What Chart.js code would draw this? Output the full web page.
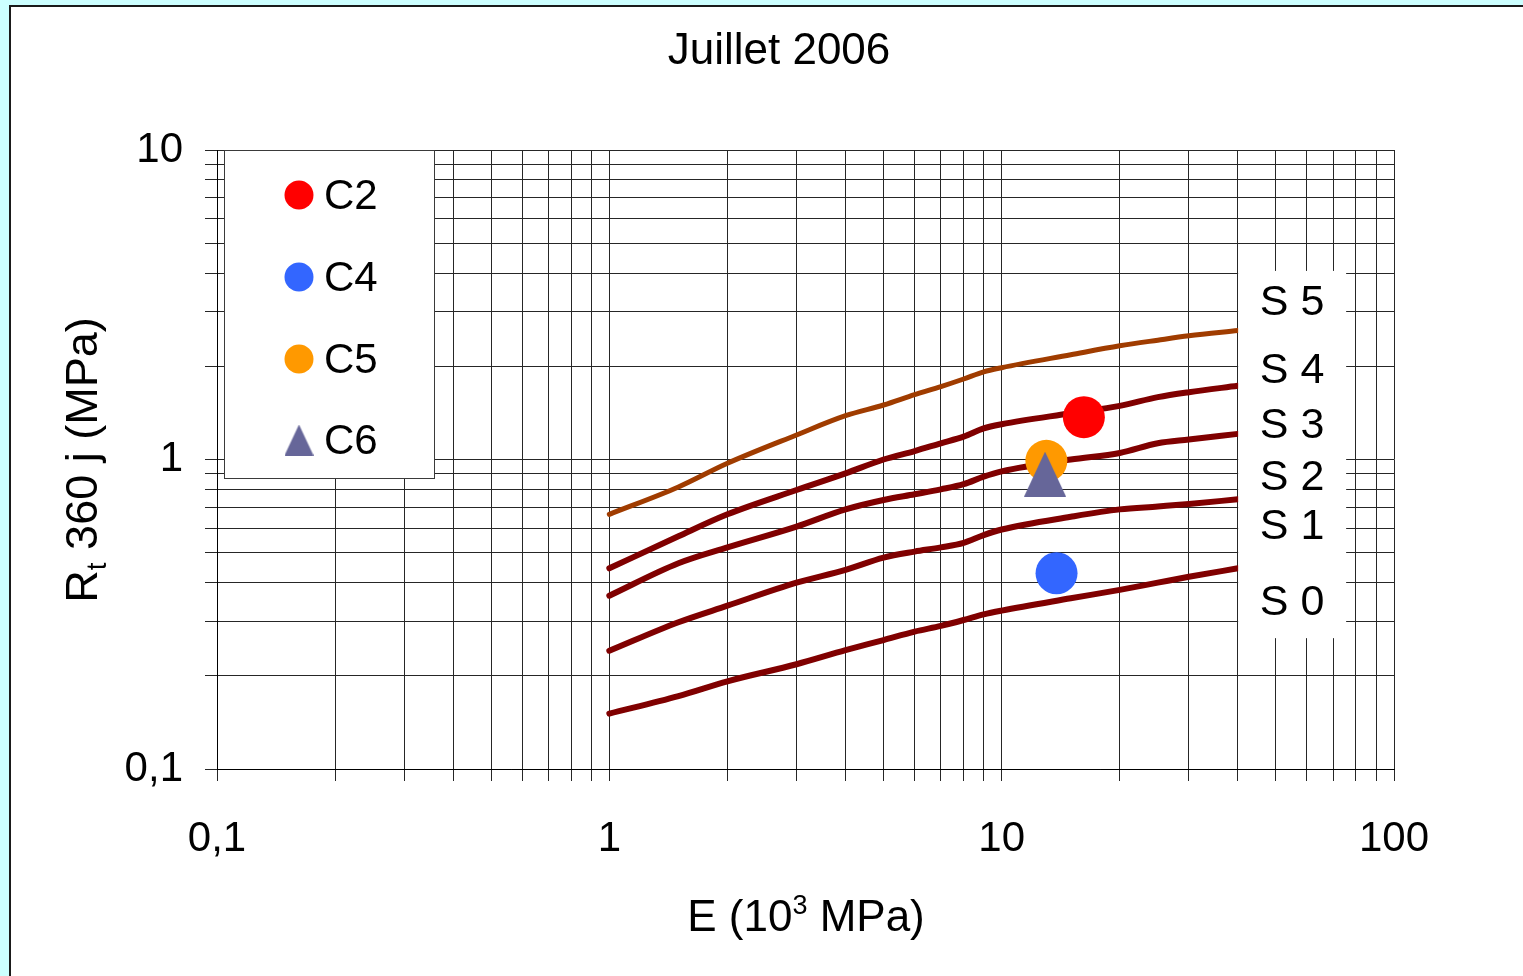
<!DOCTYPE html>
<html>
<head>
<meta charset="utf-8">
<style>
  html, body { margin: 0; padding: 0; background: #ccffff; }
  canvas { display: block; }
</style>
<script src="https://cdn.jsdelivr.net/npm/chart.js@4.4.1/dist/chart.umd.min.js"></script>
</head>
<body>
<canvas id="chart" width="1523" height="976"></canvas>
<script>
// Modulus E (10^3 MPa) at which the class boundary curves are tabulated
const boundaryE = [1, 1.5, 2, 3, 4, 5, 6, 7, 8, 9, 10, 15, 20, 25, 30, 40];

// Rt 360 j (MPa) along each boundary between classes S0 .. S5
const limitS0S1 = [0.151, 0.172, 0.192, 0.218, 0.242, 0.261, 0.278, 0.290, 0.303, 0.316, 0.325, 0.356, 0.379, 0.400, 0.418, 0.445];
const limitS1S2 = [0.241, 0.298, 0.337, 0.400, 0.440, 0.482, 0.504, 0.520, 0.538, 0.570, 0.594, 0.653, 0.690, 0.705, 0.718, 0.744];
const limitS2S3 = [0.363, 0.462, 0.520, 0.607, 0.690, 0.740, 0.772, 0.801, 0.832, 0.880, 0.915, 1.000, 1.050, 1.128, 1.160, 1.210];
const limitS3S4 = [0.445, 0.565, 0.665, 0.797, 0.902, 1.000, 1.065, 1.128, 1.185, 1.260, 1.300, 1.410, 1.490, 1.590, 1.650, 1.730];
const limitS4S5 = [0.665, 0.815, 0.972, 1.200, 1.385, 1.500, 1.620, 1.720, 1.820, 1.920, 1.980, 2.180, 2.330, 2.430, 2.510, 2.610];

// Class names and the Rt value at which each name sits, at the right of the curves
const classNames = ['S 0', 'S 1', 'S 2', 'S 3', 'S 4', 'S 5'];
const classRt = [0.346, 0.607, 0.880, 1.288, 1.946, 3.23];
const classE = 55;

// Measured samples
const sampleNames = ['C2', 'C4', 'C5', 'C6'];
const sampleE = [16.2, 13.8, 13.0, 12.9];
const sampleRt = [1.37, 0.429, 0.99, 0.897];

// Axis ticks (log scales) and their labels
const xTickValues = [0.1, 0.2, 0.3, 0.4, 0.5, 0.6, 0.7, 0.8, 0.9, 1, 2, 3, 4, 5, 6, 7, 8, 9, 10, 20, 30, 40, 50, 60, 70, 80, 90, 100];
const xTickLabels = {0.1: '0,1', 1: '1', 10: '10', 100: '100'};
const yTickValues = [0.1, 0.2, 0.3, 0.4, 0.5, 0.6, 0.7, 0.8, 0.9, 1, 2, 3, 4, 5, 6, 7, 8, 9, 10];
const yTickLabels = {0.1: '0,1', 1: '1', 10: '10'};

const FONT = '"Liberation Sans", Arial, Helvetica, sans-serif';
const GRID = '#262626';

function triangleSprite(w, h, color) {
  const c = document.createElement('canvas');
  c.width = w; c.height = h;
  const g = c.getContext('2d');
  g.fillStyle = color;
  g.beginPath();
  g.moveTo(w / 2, 0);
  g.lineTo(w, h);
  g.lineTo(0, h);
  g.closePath();
  g.fill();
  return c;
}

const sampleStyle = {
  C2: { color: '#ff0000', style: 'circle', order: 2 },
  C4: { color: '#3366ff', style: 'circle', order: 3 },
  C5: { color: '#ff9900', style: 'circle', order: 1 },
  C6: { color: '#666699', style: 'triangle', order: 0 }
};

const boundaries = [limitS0S1, limitS1S2, limitS2S3, limitS3S4, limitS4S5];
const boundaryColors = ['#800000', '#800000', '#800000', '#800000', '#a03c00'];
const boundaryWidths = [6, 6, 6, 6, 5];

const datasets = [];
sampleNames.forEach((name, i) => {
  const st = sampleStyle[name];
  datasets.push({
    type: 'scatter',
    label: name,
    isSample: true,
    data: [{ x: sampleE[i], y: sampleRt[i] }],
    pointStyle: st.style === 'triangle' ? triangleSprite(42, 45, st.color) : 'circle',
    pointRadius: 21,
    pointHoverRadius: 21,
    pointBackgroundColor: st.color,
    pointBorderWidth: 0,
    borderColor: st.color,
    order: st.order
  });
});
boundaries.forEach((vals, k) => {
  datasets.push({
    type: 'line',
    label: 'limit ' + k,
    data: boundaryE.map((e, i) => ({ x: e, y: vals[i] })),
    borderColor: boundaryColors[k],
    borderWidth: boundaryWidths[k],
    pointRadius: 0,
    cubicInterpolationMode: 'monotone',
    fill: false,
    borderCapStyle: 'round',
    borderJoinStyle: 'round',
    order: 10
  });
});

// Frame, white sheet and free text (title, axis titles, legend, class names)
const decorations = {
  id: 'decorations',
  beforeDraw(chart) {
    const ctx = chart.ctx;
    ctx.save();
    ctx.fillStyle = '#ccffff';
    ctx.fillRect(0, 0, chart.width, chart.height);
    ctx.fillStyle = '#ffffff';
    ctx.fillRect(9, 5, chart.width - 9, chart.height - 5);
    ctx.fillStyle = '#1a1a1a';
    ctx.fillRect(9, 5, chart.width - 9, 2);
    ctx.fillRect(9, 5, 2, chart.height - 5);
    ctx.restore();
  },
  afterDraw(chart) {
    const ctx = chart.ctx;
    const xs = chart.scales.x, ys = chart.scales.y;
    const area = chart.chartArea;
    ctx.save();
    ctx.fillStyle = '#000';

    // Title
    ctx.font = '44px ' + FONT;
    ctx.textAlign = 'center';
    ctx.textBaseline = 'middle';
    ctx.fillText('Juillet 2006', 779, 52);

    // Rich text helper (sub/superscripts)
    function rich(parts, x, y) {
      let total = 0;
      parts.forEach(p => { ctx.font = p.size + 'px ' + FONT; p.w = ctx.measureText(p.t).width; total += p.w; });
      let cx = x - total / 2;
      ctx.textAlign = 'left';
      ctx.textBaseline = 'alphabetic';
      parts.forEach(p => { ctx.font = p.size + 'px ' + FONT; ctx.fillText(p.t, cx, y + p.dy); cx += p.w; });
    }

    // X axis title
    rich([
      { t: 'E (10', size: 44, dy: 0 },
      { t: '3', size: 27, dy: -17 },
      { t: ' MPa)', size: 44, dy: 0 }
    ], 806, 931);

    // Y axis title
    ctx.save();
    ctx.translate(97, 460);
    ctx.rotate(-Math.PI / 2);
    rich([
      { t: 'R', size: 45, dy: 0 },
      { t: 't', size: 28, dy: 9 },
      { t: ' 360 j (MPa)', size: 45, dy: 0 }
    ], 0, 0);
    ctx.restore();

    // Legend box
    const lx = area.left + 7.5, ly = area.top + 0.5, lw = 210, lh = 328;
    ctx.fillStyle = '#ffffff';
    ctx.fillRect(lx, ly, lw, lh);
    ctx.strokeStyle = '#3a3a3a';
    ctx.lineWidth = 1;
    ctx.strokeRect(lx, ly, lw, lh);
    const rowY = [195, 277, 359, 440];
    chart.data.datasets.filter(d => d.isSample).forEach((d, i) => {
      const st = sampleStyle[d.label];
      const my = rowY[i];
      if (st.style === 'triangle') {
        ctx.drawImage(triangleSprite(29, 31, st.color), 299 - 14.5, my - 15.5);
      } else {
        ctx.fillStyle = st.color;
        ctx.beginPath();
        ctx.arc(299, my, 14.5, 0, Math.PI * 2);
        ctx.fill();
      }
      ctx.fillStyle = '#000';
      ctx.font = '42px ' + FONT;
      ctx.textAlign = 'left';
      ctx.textBaseline = 'middle';
      ctx.fillText(d.label, 324, my + 2);
    });

    // Class names on a white strip at the right of the curves
    const cx = xs.getPixelForValue(classE);
    const yTop = ys.getPixelForValue(classRt[classRt.length - 1]);
    const yBot = ys.getPixelForValue(classRt[0]);
    ctx.fillStyle = '#ffffff';
    ctx.fillRect(cx - 54, yTop - 31, 108, yBot - yTop + 67);
    ctx.fillStyle = '#000';
    ctx.font = '43px ' + FONT;
    ctx.textAlign = 'center';
    ctx.textBaseline = 'middle';
    classNames.forEach((n, i) => {
      ctx.fillText(n, cx, ys.getPixelForValue(classRt[i]) + 1);
    });
    ctx.restore();
  }
};

new Chart(document.getElementById('chart'), {
  data: { datasets },
  options: {
    responsive: false,
    animation: false,
    devicePixelRatio: 1,
    layout: { padding: { top: 150, right: 129, left: 0, bottom: 0 } },
    plugins: {
      legend: { display: false },
      title: { display: false },
      tooltip: { enabled: false }
    },
    scales: {
      x: {
        type: 'logarithmic',
        min: 0.1,
        max: 100,
        afterFit(scale) { scale.height = 207; },
        afterBuildTicks(scale) { scale.ticks = xTickValues.map(v => ({ value: v })); },
        grid: { color: GRID, lineWidth: 1, tickLength: 12, drawTicks: true, tickColor: GRID },
        border: { color: '#000', width: 1 },
        ticks: {
          autoSkip: false,
          maxRotation: 0,
          padding: 33,
          color: '#000',
          font: { family: FONT, size: 42 },
          callback: v => (xTickLabels[v] !== undefined ? xTickLabels[v] : '')
        }
      },
      y: {
        type: 'logarithmic',
        min: 0.1,
        max: 10,
        afterFit(scale) { scale.width = 217; },
        afterBuildTicks(scale) { scale.ticks = yTickValues.map(v => ({ value: v })); },
        grid: { color: GRID, lineWidth: 1, tickLength: 12, drawTicks: true, tickColor: GRID },
        border: { color: '#000', width: 1 },
        ticks: {
          autoSkip: false,
          padding: 22,
          color: '#000',
          font: { family: FONT, size: 42 },
          callback: v => (yTickLabels[v] !== undefined ? yTickLabels[v] : '')
        }
      }
    }
  },
  plugins: [decorations]
});
</script>
</body>
</html>
